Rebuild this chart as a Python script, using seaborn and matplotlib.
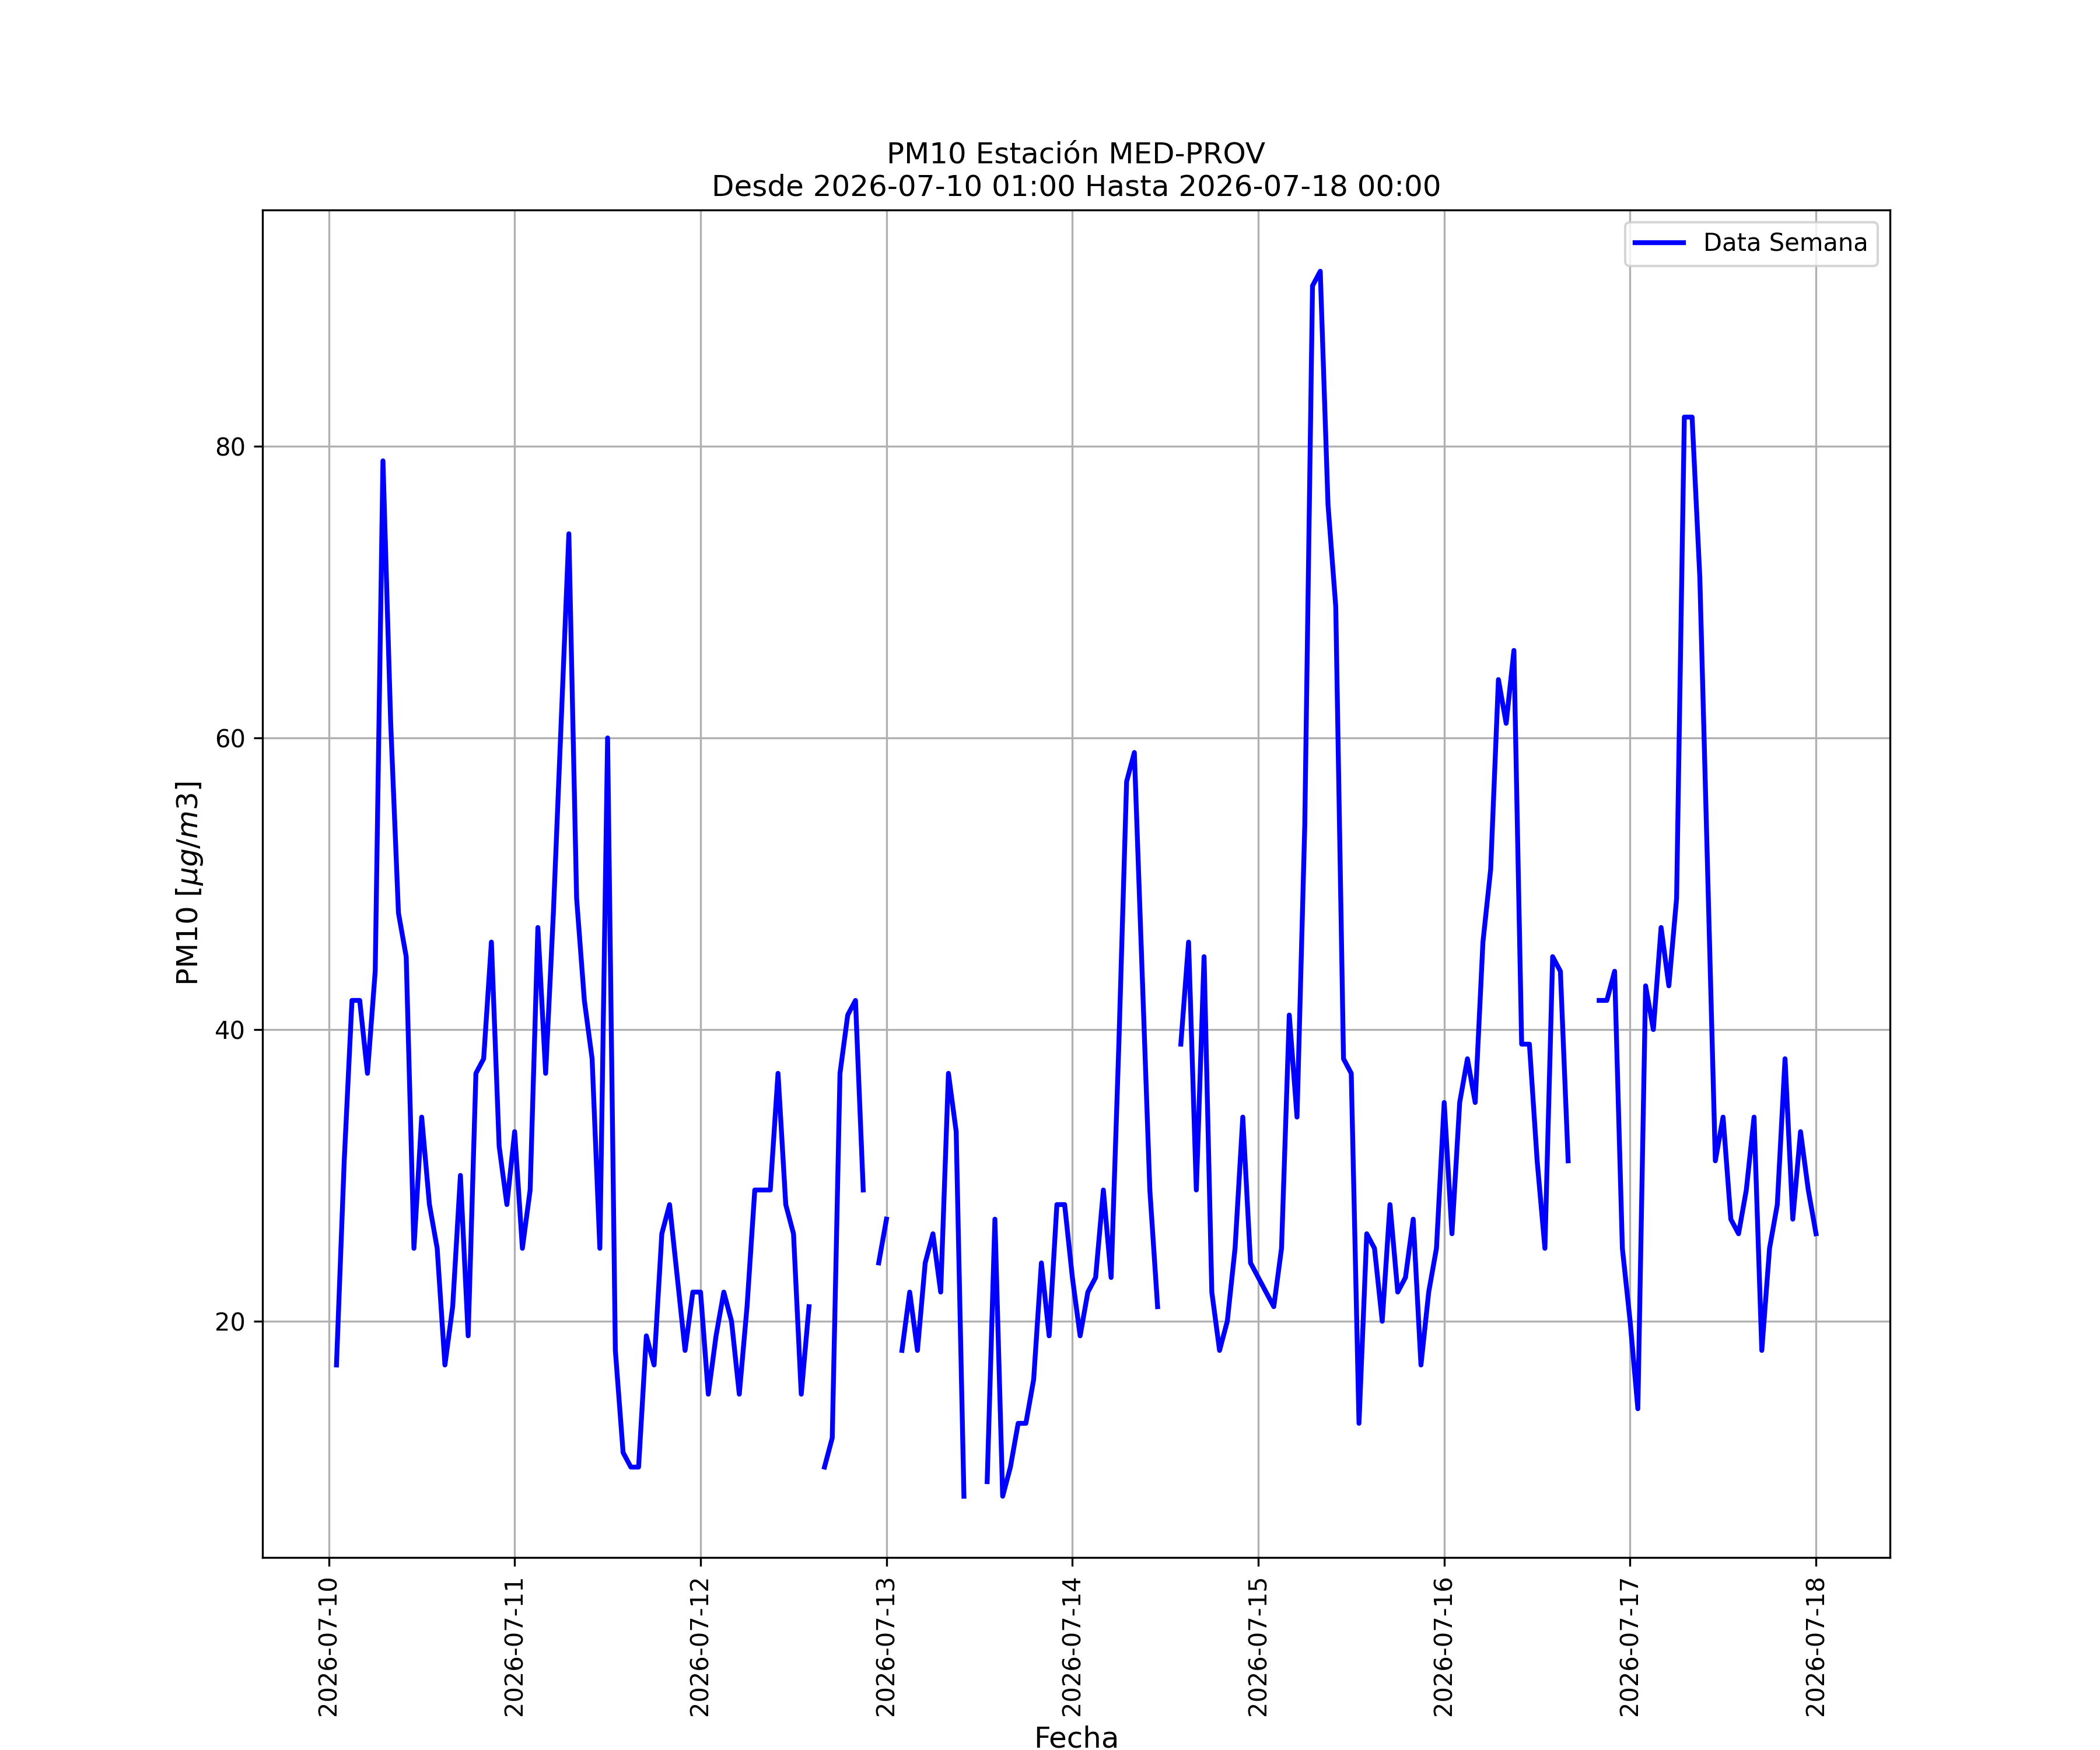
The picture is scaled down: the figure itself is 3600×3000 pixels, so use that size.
import matplotlib
matplotlib.use("Agg")
import matplotlib.pyplot as plt
import numpy as np
import pandas as pd
import seaborn as sns

nan = np.nan

# Valores horarios de PM10 (ug/m3), un bloque por día
dia_10 = [17, 31, 42, 42, 37, 44, 79, 61, 48, 45, 25, 34, 28, 25, 17, 21, 30, 19, 37, 38, 46, 32, 28]  # desde 01:00
dia_11 = [33, 25, 29, 47, 37, 48, 61, 74, 49, 42, 38, 25, 60, 18, 11, 10, 10, 19, 17, 26, 28, 23, 18, 22]
dia_12 = [22, 15, 19, 22, 20, 15, 21, 29, 29, 29, 37, 28, 26, 15, 21, nan, 10, 12, 37, 41, 42, 29, nan, 24]
dia_13 = [27, nan, 18, 22, 18, 24, 26, 22, 37, 33, 8, nan, nan, 9, 27, 8, 10, 13, 13, 16, 24, 19, 28, 28]
dia_14 = [23, 19, 22, 23, 29, 23, 39, 57, 59, 44, 29, 21, nan, nan, 39, 46, 29, 45, 22, 18, 20, 25, 34, 24]
dia_15 = [23, 22, 21, 25, 41, 34, 54, 91, 92, 76, 69, 38, 37, 13, 26, 25, 20, 28, 22, 23, 27, 17, 22, 25]
dia_16 = [35, 26, 35, 38, 35, 46, 51, 64, 61, 66, 39, 39, 31, 25, 45, 44, 31, nan, nan, nan, 42, 42, 44, 25]
dia_17 = [20, 14, 43, 40, 47, 43, 49, 82, 82, 71, 51, 31, 34, 27, 26, 29, 34, 18, 25, 28, 38, 27, 33, 29]
dia_18 = [26]  # solo 00:00

inicio = "2026-07-10 01:00"
fin = "2026-07-18 00:00"
estacion = "MED-PROV"

valores = dia_10 + dia_11 + dia_12 + dia_13 + dia_14 + dia_15 + dia_16 + dia_17 + dia_18
fechas = pd.date_range(inicio, fin, freq="h")

datos = pd.DataFrame({"Fecha": fechas, "PM10": valores})
# Identificador de tramo para que la línea se corte donde faltan datos
datos["tramo"] = datos["PM10"].isna().cumsum()
datos = datos.dropna()

########################################################
fig, ax = plt.subplots(figsize=(12, 10), dpi=300)

sns.lineplot(data=datos, x="Fecha", y="PM10", units="tramo", estimator=None,
             color="blue", linewidth=2, ax=ax)

ax.lines[0].set_label("Data Semana")
ax.legend(handles=[ax.lines[0]], loc="upper right")

ax.set_title(f"PM10 Estación {estacion}\nDesde {inicio} Hasta {fin}")
ax.set_xlabel("Fecha", fontsize=12)
ax.set_ylabel(r"PM10 [$\mu g/m3$]", fontsize=12)
ax.margins(x=0.05, y=0.05)
plt.xticks(rotation=90)
ax.grid(True)

fig.savefig("out.png", dpi=300)
